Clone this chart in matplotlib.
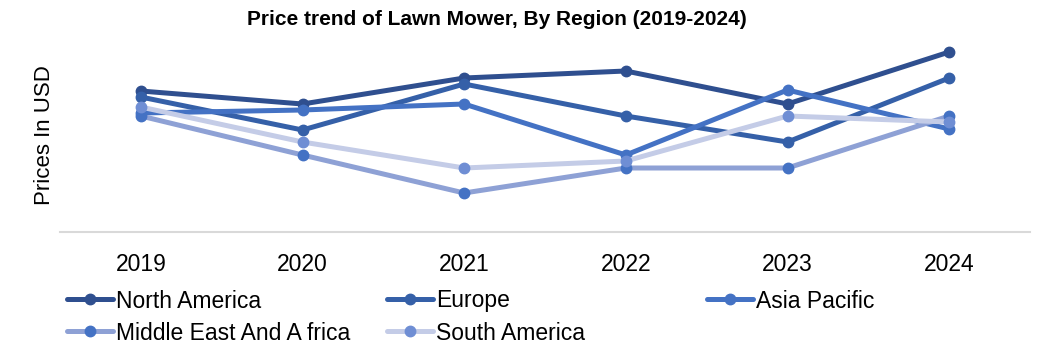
import matplotlib
matplotlib.use("Agg")
import matplotlib.pyplot as plt
from matplotlib import font_manager

years = ["2019", "2020", "2021", "2022", "2023", "2024"]
north_america = [141, 128, 154, 161, 128, 180]
europe = [135, 102, 148, 116, 90, 154]
asia_pacific = [119, 122, 128, 77, 142, 103]
middle_east_africa = [116, 77, 39, 64, 64, 116]
south_america = [125, 90, 64, 71, 116, 110]

series = [
    ("North America", north_america, "#2F4F8F", "#2F4F8F"),
    ("Europe", europe, "#3560A8", "#3560A8"),
    ("Asia Pacific", asia_pacific, "#4472C4", "#4472C4"),
    ("Middle East And A frica", middle_east_africa, "#8EA1D5", "#4472C4"),
    ("South America", south_america, "#C4CCE7", "#6F8ED4"),
]

names = {f.name for f in font_manager.fontManager.ttflist}
title_font = "Liberation Sans Narrow" if "Liberation Sans Narrow" in names else "Liberation Sans"
plt.rcParams["font.family"] = ["Liberation Sans", "DejaVu Sans"]

fig = plt.figure(figsize=(10.48, 3.5), dpi=100)
ax = fig.add_axes([60 / 1048, 1 - 232 / 350, 970 / 1048, 197 / 350])

x = list(range(len(years)))
handles = []
for name, vals, lc, mc in series:
    h, = ax.plot(x, vals, color=lc, lw=3.6, marker="o", markersize=7.5,
                 markerfacecolor=mc, markeredgecolor=mc, label=name,
                 solid_capstyle="round")
    handles.append(h)

ax.set_xlim(-0.5, 5.5)
ax.set_ylim(0, 197)
ax.set_xticks(x)
ax.set_xticklabels(years, fontsize=16.5)
ax.set_yticks([])
ax.tick_params(axis="x", length=0, pad=15)
for s in ["top", "right", "left"]:
    ax.spines[s].set_visible(False)
ax.spines["bottom"].set_color("#D9D9D9")
ax.spines["bottom"].set_linewidth(1.5)

ax.set_ylabel("Prices In USD", fontsize=16)
ax.yaxis.set_label_coords(-0.005, 0.49)

fig.text(0.4745, 0.945, "Price trend of Lawn Mower, By Region (2019-2024)",
         ha="center", va="center", fontsize=15, family=title_font,
         fontweight="bold")

for i, (h, (name, *_)) in enumerate(zip(handles, series)):
    col, row = i % 3, i // 3
    px = 67 + 320 * col
    py = 301 + 32 * row
    leg = fig.legend([h], [name], loc="center left",
                     bbox_to_anchor=(px / 1048, 1 - py / 350),
                     frameon=False, fontsize=16.5, handlelength=2.0,
                     handletextpad=0.15, borderaxespad=0, borderpad=0)

fig.savefig("out.png", dpi=100, facecolor="white")
